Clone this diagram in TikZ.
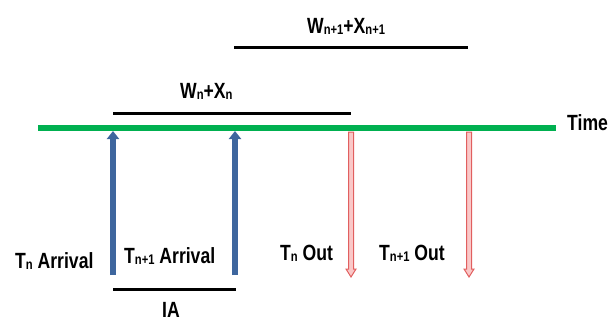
\documentclass[tikz,border=0pt]{standalone}
\usepackage{fontspec}
\newfontfamily\nar[FakeStretch=0.8]{Liberation Sans}
\definecolor{tgreen}{RGB}{0,176,80}
\definecolor{ablue}{RGB}{62,102,158}
\definecolor{rline}{RGB}{225,95,95}
\definecolor{rfill}{RGB}{250,200,200}
\newcommand\sbs[1]{\raisebox{-1pt}{\fontsize{14}{14}\selectfont #1}}
\tikzset{
  lbl/.style={font=\nar\bfseries\fontsize{22}{22}\selectfont, inner sep=0pt, anchor=base west},
  span/.style={line width=3pt, black},
  axis/.style={line width=6pt, tgreen},
  barrow/.style={line width=5.5pt, ablue, -{Triangle[width=12pt,length=8pt]}},
  rarrow/.style={draw=rline, fill=rfill, line width=1pt, line join=miter}
}
\usetikzlibrary{arrows.meta}
\begin{document}
\begin{tikzpicture}[x=1pt,y=-1pt]
\useasboundingbox (0,0) rectangle (609,322);
% axis
\coordinate (g1) at (38,128);
\coordinate (g2) at (556,128);
\draw[axis] (g1) -- (g2);
\node[lbl] (time) at (567,130) {Time};
% spans
\coordinate (s1a) at (113,113);
\coordinate (s1b) at (351,113);
\draw[span] (s1a) -- (s1b);
\node[lbl] (wx) at (180,98) {W\sbs{n}+X\sbs{n}};
\coordinate (s2a) at (234,47);
\coordinate (s2b) at (468,47);
\draw[span] (s2a) -- (s2b);
\node[lbl] (wx1) at (307,33) {W\sbs{n+1}+X\sbs{n+1}};
\coordinate (ia1) at (113,289);
\coordinate (ia2) at (236,289);
\draw[span] (ia1) -- (ia2);
\node[lbl] (ia) at (162,317) {IA};
% blue arrows
\coordinate (b1b) at (113,275);
\coordinate (b1t) at (113,131);
\coordinate (b2b) at (235,275);
\coordinate (b2t) at (235,131);
\draw[barrow] (b1b) -- (b1t);
\draw[barrow] (b2b) -- (b2t);
% red arrows
\coordinate (r1) at (351,132);
\coordinate (r2) at (469,132);
\filldraw[rarrow] (r1) ++(-2.5,0) -- ++(0,137) -- ++(-2.5,0) -- ++(5,8) -- ++(5,-8) -- ++(-2.5,0) -- ++(0,-137) -- cycle;
\filldraw[rarrow] (r2) ++(-2.5,0) -- ++(0,137) -- ++(-2.5,0) -- ++(5,8) -- ++(5,-8) -- ++(-2.5,0) -- ++(0,-137) -- cycle;
% labels
\node[lbl] (tna) at (15,268) {T\sbs{n} Arrival};
\node[lbl] (tn1a) at (124,263) {T\sbs{n+1} Arrival};
\node[lbl] (tno) at (280,260) {T\sbs{n} Out};
\node[lbl] (tn1o) at (379,260) {T\sbs{n+1} Out};
\end{tikzpicture}
\end{document}
